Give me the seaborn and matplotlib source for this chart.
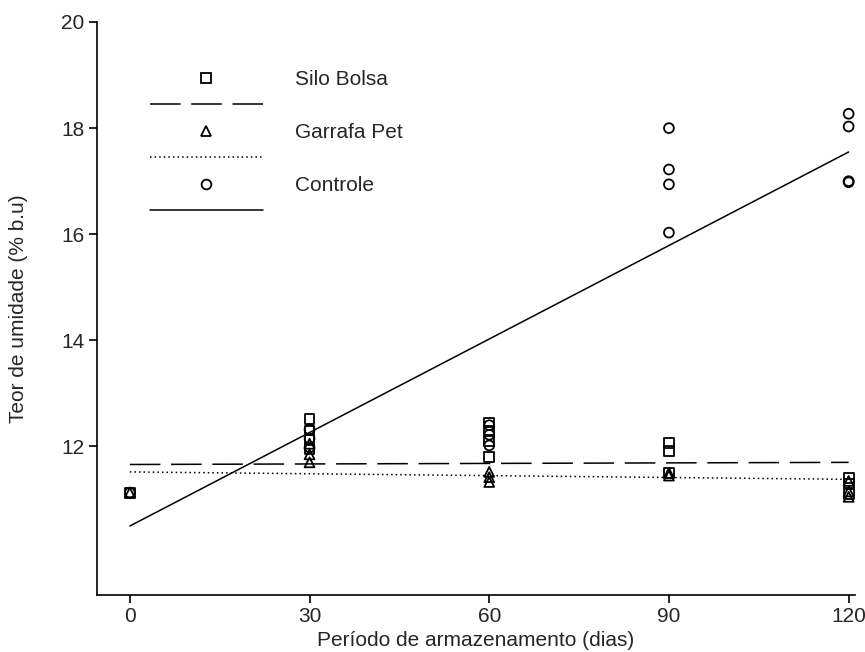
import numpy as np
import pandas as pd
import matplotlib
matplotlib.use("Agg")
import matplotlib.pyplot as plt
import seaborn as sns
from matplotlib.lines import Line2D

sns.set_theme(style="ticks")
plt.rcParams['font.family'] = ['Liberation Sans', 'DejaVu Sans']

# ---- data ----
silo_days = [0, 30, 30, 30, 30, 60, 60, 60, 60, 90, 90, 90, 120, 120, 120]
silo_vals = [11.13, 12.52, 12.30, 12.12, 11.95, 12.45, 12.30, 12.10, 11.80, 12.07, 11.92, 11.50, 11.40, 11.30, 11.10]
pet_days = [0, 30, 30, 30, 60, 60, 60, 90, 90, 120, 120, 120]
pet_vals = [11.13, 12.05, 11.85, 11.70, 11.52, 11.42, 11.33, 11.50, 11.45, 11.35, 11.15, 11.05]
ctrl_days = [0, 30, 30, 30, 60, 60, 60, 90, 90, 90, 90, 120, 120, 120, 120]
ctrl_vals = [11.13, 12.32, 12.15, 11.98, 12.40, 12.22, 12.02, 18.00, 17.22, 16.94, 16.03, 18.27, 18.03, 17.00, 16.98]

fit_days = [0, 120]
silo_fit = [11.66, 11.70]
pet_fit = [11.52, 11.38]
ctrl_fit = [10.50, 17.55]

labels = ["Silo Bolsa", "Garrafa Pet", "Controle"]
xticks = [0, 30, 60, 90, 120]
yticks = [12, 14, 16, 18, 20]

df = pd.concat([
    pd.DataFrame({"dia": silo_days, "umid": silo_vals, "trat": labels[0]}),
    pd.DataFrame({"dia": pet_days, "umid": pet_vals, "trat": labels[1]}),
    pd.DataFrame({"dia": ctrl_days, "umid": ctrl_vals, "trat": labels[2]}),
])
fits = pd.concat([
    pd.DataFrame({"dia": fit_days, "umid": silo_fit, "trat": labels[0]}),
    pd.DataFrame({"dia": fit_days, "umid": pet_fit, "trat": labels[1]}),
    pd.DataFrame({"dia": fit_days, "umid": ctrl_fit, "trat": labels[2]}),
])

markers = {labels[0]: "s", labels[1]: "^", labels[2]: "o"}
dashes = {labels[0]: (20, 7), labels[1]: (1, 2), labels[2]: ""}

fig = plt.figure(figsize=(8.65, 6.52), dpi=100)
ax = fig.add_axes([0.112, 1 - 595 / 652, 0.876, (595 - 22) / 652])

sns.lineplot(data=fits, x="dia", y="umid", style="trat", dashes=dashes,
             color="black", linewidth=1.1, legend=False, ax=ax)
sns.scatterplot(data=df, x="dia", y="umid", style="trat", markers=markers,
                facecolors="none", edgecolor="black", linewidth=1.3, s=50,
                legend=False, ax=ax)

ax.set_xlim(-5.5, 121)
ax.set_ylim(9.2, 20)
ax.set_xticks(xticks)
ax.set_yticks(yticks)
ax.tick_params(labelsize=15, length=6, width=1.2, color="black", pad=3)
ax.set_xlabel("Período de armazenamento (dias)", fontsize=15, labelpad=3)
ax.set_ylabel("Teor de umidade (% b.u)", fontsize=15, labelpad=24)
sns.despine(ax=ax)
for s in ("left", "bottom"):
    ax.spines[s].set_linewidth(1.2)
    ax.spines[s].set_color("black")

handles = []
hl = []
for lab in labels:
    handles.append(Line2D([], [], marker=markers[lab], linestyle="none", markersize=7,
                          markerfacecolor="none", markeredgecolor="black", markeredgewidth=1.3))
    hl.append(lab)
    d = dashes[lab]
    ln = Line2D([], [], color="black", linewidth=1.1)
    if d:
        ln.set_dashes(d)
    handles.append(ln)
    hl.append("")
leg = ax.legend(handles, hl, loc="upper left", bbox_to_anchor=(0.07, 0.916), frameon=False,
                borderpad=0, borderaxespad=0,
                fontsize=15, handlelength=5.43, handletextpad=1.54, labelspacing=0.36)

fig.savefig("out.png", dpi=100)
